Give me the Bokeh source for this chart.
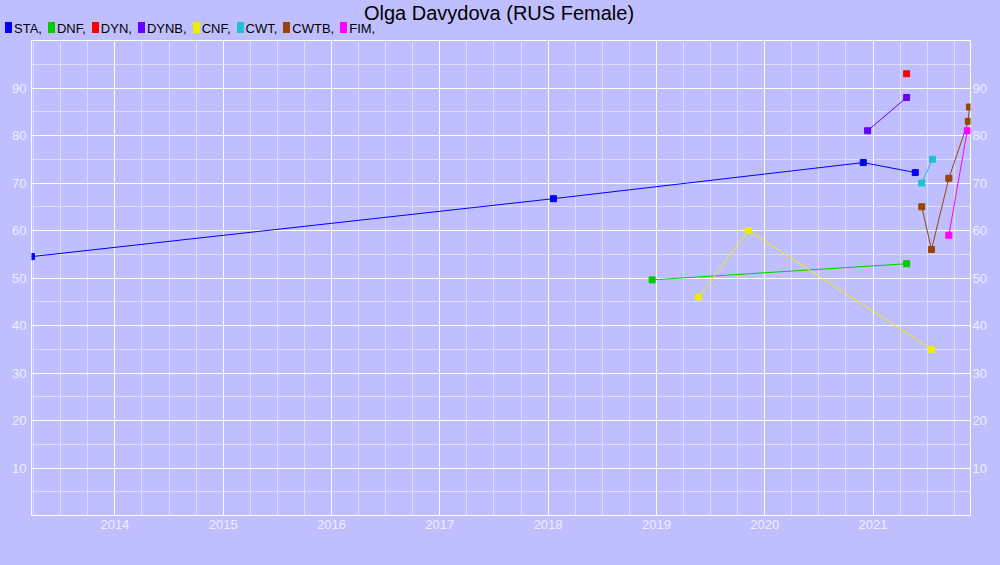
from bokeh.plotting import figure
from bokeh.layouts import column
from bokeh.models import (Range1d, LinearAxis, FixedTicker, CustomJSTickFormatter,
                          ColumnDataSource, Grid, Div)
from bokeh.embed import file_html
from bokeh.resources import INLINE

# ---- data (x = decimal year, y = score) ----
series_names = ["STA", "DNF", "DYN", "DYNB", "CNF", "CWT", "CWTB", "FIM"]
series_colors = ["#0000ff", "#00cc00", "#ff0000", "#6600ff", "#eeee00", "#20c0d0", "#994400", "#ff00ff"]

sta_x = [2013.23, 2018.05, 2020.91, 2021.39]
sta_y = [54.5, 66.7, 74.3, 72.2]
dnf_x = [2018.96, 2021.31]
dnf_y = [49.6, 53.0]
dyn_x = [2021.31]
dyn_y = [93.0]
dynb_x = [2020.95, 2021.31]
dynb_y = [81.0, 88.0]
cnf_x = [2019.39, 2019.85, 2021.54]
cnf_y = [46.0, 60.0, 35.0]
cwt_x = [2021.45, 2021.55]
cwt_y = [70.0, 75.0]
cwtb_x = [2021.45, 2021.54, 2021.70, 2021.88, 2021.89]
cwtb_y = [65.0, 56.0, 71.0, 83.0, 86.0]
fim_x = [2021.70, 2021.87]
fim_y = [59.0, 81.0]

year_ticks = list(range(2014, 2022))
y_ticks = [10, 20, 30, 40, 50, 60, 70, 80, 90]
title_text = "Olga Davydova (RUS Female)"

xs = [sta_x, dnf_x, dyn_x, dynb_x, cnf_x, cwt_x, cwtb_x, fim_x]
ys = [sta_y, dnf_y, dyn_y, dynb_y, cnf_y, cwt_y, cwtb_y, fim_y]

BG = "#bfbfff"
FONT = "Liberation Sans"

# ---- header strip: title + legend (HTML) ----
legend_html = "".join(
    f'<span style="display:inline-block;width:7px;height:11px;background:{c};'
    f'margin-right:2px;vertical-align:baseline;"></span>'
    f'<span style="margin-right:6px;">{n},</span>'
    for n, c in zip(series_names, series_colors))
header_html = (
    f'<div style="position:relative;width:1000px;height:40px;background:{BG};'
    f'font-family:\'{FONT}\';color:black;overflow:hidden;">'
    f'<div style="position:absolute;left:-1px;top:3px;width:1000px;text-align:center;'
    f'font-size:20px;line-height:20px;white-space:nowrap;">{title_text}</div>'
    f'<div style="position:absolute;left:5px;top:22px;font-size:13px;line-height:13px;'
    f'white-space:nowrap;">{legend_html}</div>'
    '</div>')
head = Div(text=header_html, width=1000, height=40, margin=0)

# ---- main chart ----
p = figure(width=1000, height=525, output_backend="svg", toolbar_location=None,
           x_range=Range1d(2013.23, 2021.90), y_range=Range1d(0, 100),
           min_border_left=31, min_border_right=30, min_border_top=0, min_border_bottom=50,
           x_axis_type=None, y_axis_type=None)
p.background_fill_color = BG
p.border_fill_color = BG
p.outline_line_color = "white"
p.outline_line_width = 1

x_minor = [y + q / 4 for y in range(2013, 2022) for q in range(4)]
y_minor = list(range(5, 100, 5))
xticker = FixedTicker(ticks=year_ticks, minor_ticks=x_minor)
yticker = FixedTicker(ticks=y_ticks, minor_ticks=y_minor)

def style_axis(ax, standoff):
    ax.axis_line_color = None
    ax.major_tick_line_color = None
    ax.minor_tick_line_color = None
    ax.major_tick_out = 0
    ax.major_tick_in = 0
    ax.minor_tick_out = 0
    ax.minor_tick_in = 0
    ax.major_label_text_color = "#eeeeff"
    ax.major_label_text_font = FONT
    ax.major_label_text_font_size = "13px"
    ax.major_label_standoff = standoff

xa = LinearAxis(ticker=xticker, formatter=CustomJSTickFormatter(code="return tick.toFixed(0)"))
style_axis(xa, 4)
p.add_layout(xa, "below")
yl = LinearAxis(ticker=yticker)
style_axis(yl, 5)
p.add_layout(yl, "left")
yr = LinearAxis(ticker=yticker)
style_axis(yr, 2)
p.add_layout(yr, "right")

for dim, tk in ((0, xticker), (1, yticker)):
    g = Grid(dimension=dim, ticker=tk, grid_line_color="white", grid_line_width=1,
             minor_grid_line_color="#dcdcff", minor_grid_line_width=1, level="underlay")
    p.add_layout(g)

for name, col, x, y in zip(series_names, series_colors, xs, ys):
    src = ColumnDataSource(dict(x=x, y=y))
    if len(x) > 1:
        p.line("x", "y", source=src, line_color=col, line_width=1)
    p.scatter("x", "y", source=src, marker="square", size=6, fill_color=col, line_color=col)

layout = column(head, p, spacing=0)
layout.styles = {"background-color": BG}
open("out.html", "w").write(file_html(layout, INLINE))
